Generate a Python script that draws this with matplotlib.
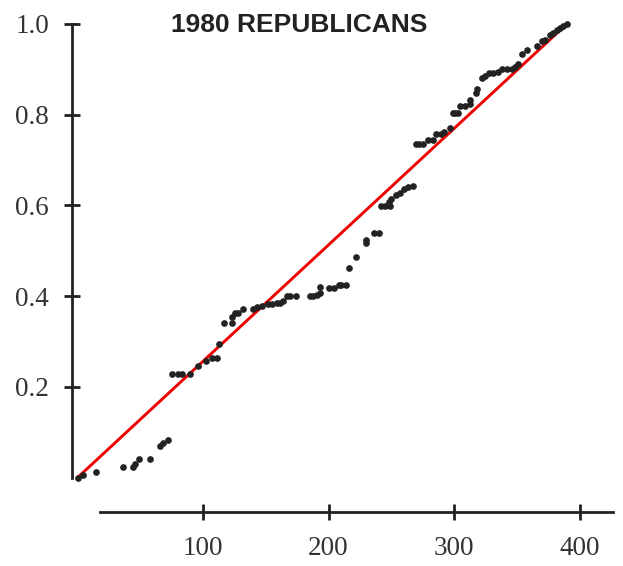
import matplotlib.pyplot as plt

# rank of state (x) vs cumulative share (y)
ranks = [0, 4.6, 15, 36, 44.5, 46, 49, 58, 66, 68, 72,
         75, 80, 83, 90, 96, 102, 107, 111, 113, 117, 123, 123, 125.5, 127.7,
         132, 140, 143, 147, 152, 155, 159, 161, 164, 167, 169, 174,
         185, 188, 191, 193, 193, 200, 204, 208, 210, 214,
         216, 222, 230, 230, 236, 240.5, 242, 245, 249, 248, 250, 254, 257, 260, 263.6, 267,
         270, 272, 275.5, 279.5, 283, 286, 290, 292, 297, 299.5, 301, 303.5, 305, 309,
         313, 313, 317.5, 318, 322, 324.7, 328, 331, 335, 338, 342, 346, 348.6, 351,
         354, 358, 366, 370, 372.5, 376.5, 379, 382, 384.5, 387, 390]
shares = [0.0, 0.006, 0.012, 0.024, 0.023, 0.029, 0.041, 0.041, 0.07, 0.077, 0.083,
          0.228, 0.228, 0.228, 0.228, 0.246, 0.258, 0.264, 0.264, 0.294, 0.34, 0.34, 0.353, 0.363, 0.363,
          0.371, 0.371, 0.375, 0.378, 0.382, 0.382, 0.384, 0.385, 0.389, 0.401, 0.401, 0.401,
          0.401, 0.401, 0.402, 0.407, 0.419, 0.417, 0.417, 0.424, 0.424, 0.424,
          0.463, 0.487, 0.518, 0.523, 0.54, 0.54, 0.598, 0.598, 0.598, 0.608, 0.615, 0.623, 0.628, 0.635, 0.64, 0.642,
          0.735, 0.735, 0.735, 0.745, 0.745, 0.758, 0.758, 0.762, 0.77, 0.804, 0.804, 0.804, 0.82, 0.82,
          0.823, 0.833, 0.847, 0.856, 0.88, 0.885, 0.891, 0.891, 0.894, 0.9, 0.9, 0.9, 0.905, 0.911,
          0.933, 0.942, 0.951, 0.962, 0.964, 0.975, 0.979, 0.986, 0.991, 0.996, 1.0]

ref_x = [0, 390]
ref_y = [0, 1]

x_ticks = [100, 200, 300, 400]
y_ticks = [0.2, 0.4, 0.6, 0.8, 1.0]
title = "1980 REPUBLICANS"

ink = "#222222"

fig = plt.figure(figsize=(6.23, 5.66), dpi=100)
ax = fig.add_axes([0.1043, 0.076, 0.8864, 0.922])

ax.plot(ref_x, ref_y, color="#ee0000", lw=2.1, zorder=2)
ax.plot(ranks, shares, "o", color=ink, ms=3.8, mec=ink, zorder=3)

ax.set_xlim(-10, 430)
ax.set_ylim(-0.1, 1.05)

for side in ["top", "right"]:
    ax.spines[side].set_visible(False)
ax.spines["left"].set_position(("data", -4.4))
ax.spines["left"].set_bounds(0, 1)
ax.spines["bottom"].set_position(("data", -0.076))
ax.spines["bottom"].set_bounds(18, 427)
for side in ["left", "bottom"]:
    ax.spines[side].set_linewidth(2.0)
    ax.spines[side].set_color(ink)

ax.set_xticks(x_ticks)
ax.set_yticks(y_ticks)
ax.set_xticklabels([str(t) for t in x_ticks])
ax.set_yticklabels([f"{t:.1f}" for t in y_ticks])
ax.tick_params(direction="inout", length=11, width=2.0, color=ink,
               labelcolor="#333333", labelsize=19.5)
ax.tick_params(axis="y", pad=11)
ax.tick_params(axis="x", pad=12)
for lab in ax.get_xticklabels() + ax.get_yticklabels():
    lab.set_family("Liberation Serif")

fig.text(299 / 623, 1 - 32 / 566, title, ha="center", va="baseline",
         fontsize=19, fontweight="bold", family="Liberation Sans", color=ink)

fig.savefig("out.png", dpi=100)
